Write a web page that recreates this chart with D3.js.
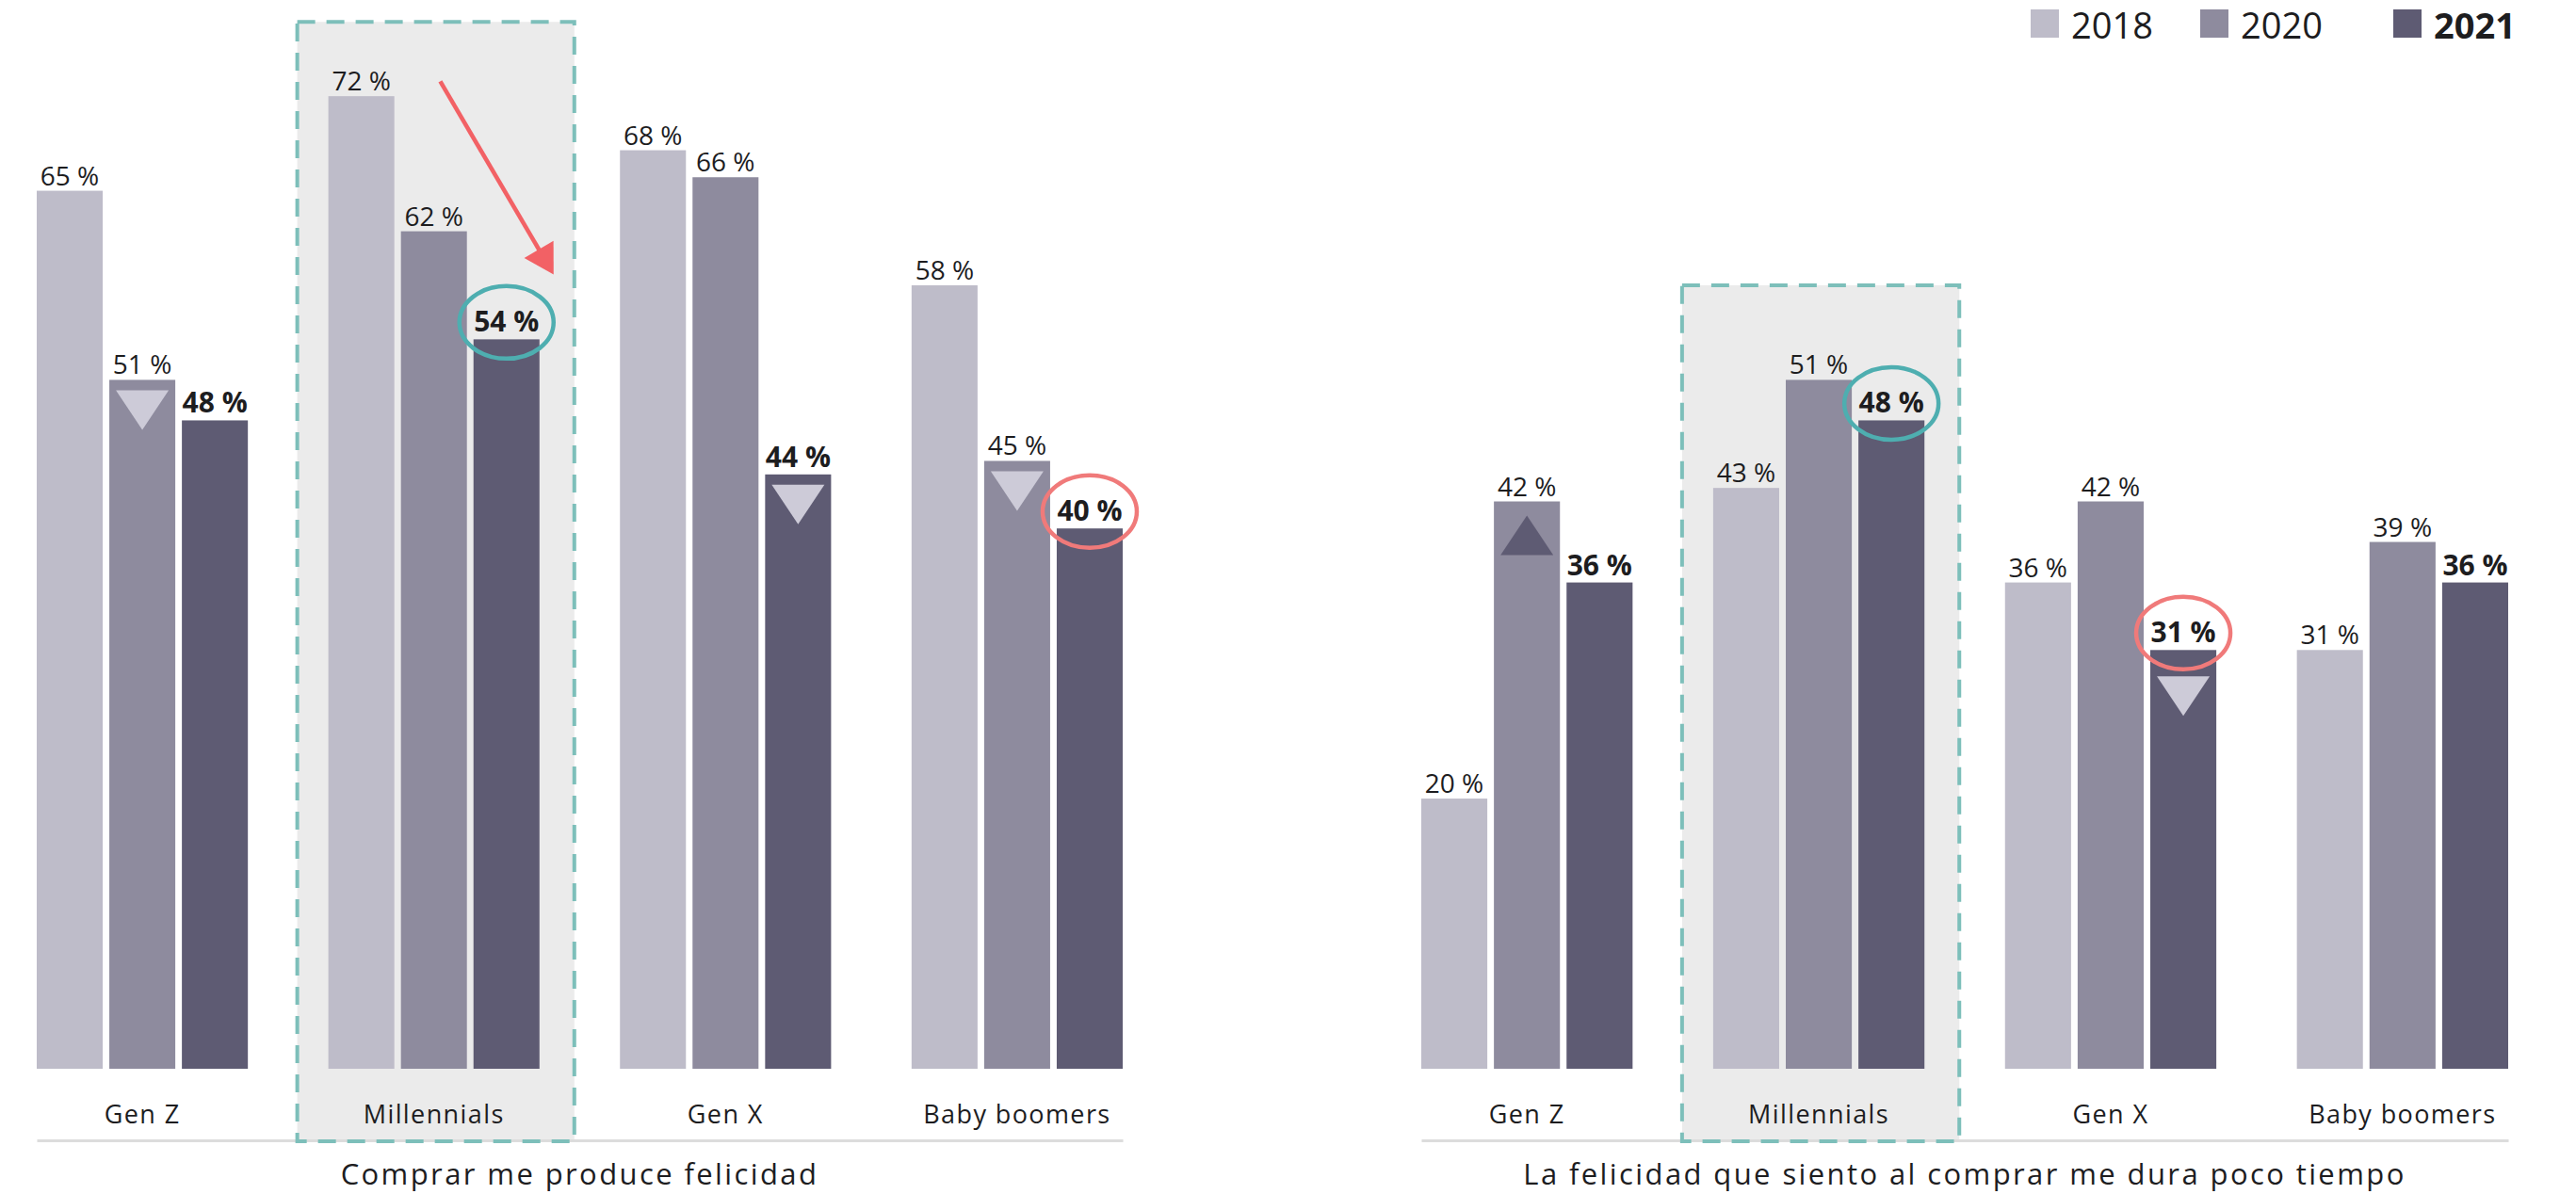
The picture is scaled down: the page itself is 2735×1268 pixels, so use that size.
<!DOCTYPE html>
<html>
<head>
<meta charset="utf-8">
<script src="https://cdn.jsdelivr.net/npm/d3@7"></script>
<style>
  html, body { margin: 0; padding: 0; background: #ffffff; }
  svg { display: block; }
  text { font-family: 'Open Sans', sans-serif; fill: #1d1d1f; }
</style>
</head>
<body>
<svg id="chart" width="2735" height="1268"></svg>
<script>
// ---------------- data ----------------
const categories = ["Gen Z", "Millennials", "Gen X", "Baby boomers"];
const years = ["2018", "2020", "2021"];
const panelTitles = [
  "Comprar me produce felicidad",
  "La felicidad que siento al comprar me dura poco tiempo"
];
const produce2018 = [65, 72, 68, 58];
const produce2020 = [51, 62, 66, 45];
const produce2021 = [48, 54, 44, 40];
const dura2018 = [20, 43, 36, 31];
const dura2020 = [42, 51, 42, 39];
const dura2021 = [36, 48, 31, 36];
const highlightCategory = ["Millennials", "Millennials"];
const highlightTopValue = [77.5, 58];
const trendMarks = [
  { panel: 0, cat: "Gen Z", year: "2020", dir: "down" },
  { panel: 0, cat: "Gen X", year: "2021", dir: "down" },
  { panel: 0, cat: "Baby boomers", year: "2020", dir: "down" },
  { panel: 1, cat: "Gen Z", year: "2020", dir: "up" },
  { panel: 1, cat: "Gen X", year: "2021", dir: "down" }
];
const circled = [
  { panel: 0, cat: "Millennials", year: "2021", tone: "teal" },
  { panel: 0, cat: "Baby boomers", year: "2021", tone: "coral" },
  { panel: 1, cat: "Millennials", year: "2021", tone: "teal" },
  { panel: 1, cat: "Gen X", year: "2021", tone: "coral" }
];
// arrow in panel 0: [category, fraction of group band, value]
const arrowFrom = ["Millennials", 0.53, 73.1];
const arrowTo = ["Millennials", 1.067, 58.8];

// ---------------- layout ----------------
const panelSeries = [
  [produce2018, produce2020, produce2021],
  [dura2018, dura2020, dura2021]
];
const panelRanges = [[39, 1192], [1509, 2663]];
const baseY = 1135, axisY = 1211;
const colors = d3.scaleOrdinal().domain(years).range(["#bebcc9", "#8e8b9e", "#5e5b73"]);
const toneColor = { teal: "#4eaeb0", coral: "#f07a7a" };
const y = d3.scaleLinear().domain([0, 100]).range([baseY, baseY - 1434.5]);

const svg = d3.select("#chart");

panelSeries.forEach((series, pi) => {
  const x0 = d3.scaleBand().domain(categories).range(panelRanges[pi]).paddingInner(0.276).paddingOuter(0);
  const x1 = d3.scaleBand().domain(years).range([0, x0.bandwidth()]).paddingInner(0.091).paddingOuter(0);
  const g = svg.append("g");

  // highlight box (fill)
  const hx = x0(highlightCategory[pi]) - 33;
  const hw = x0.bandwidth() + 70;
  const hy = y(highlightTopValue[pi]);
  g.append("rect").attr("x", hx).attr("y", hy).attr("width", hw).attr("height", axisY + 1 - hy)
    .attr("fill", "#ebebeb");

  // axis (category labels above baseline)
  const axis = g.append("g").attr("transform", `translate(0,${axisY})`)
    .call(d3.axisTop(x0).tickSize(0).tickSizeOuter(0).tickPadding(18));
  axis.select(".domain").attr("stroke", "#dcdcdc").attr("stroke-width", 3);
  axis.selectAll("text").attr("font-size", 27).attr("letter-spacing", 1.4)
    .attr("font-family", "'Open Sans', sans-serif").attr("fill", "#1d1d1f");

  // highlight box (dashed outline)
  g.append("rect").attr("x", hx).attr("y", hy).attr("width", hw).attr("height", axisY + 1 - hy)
    .attr("fill", "none").attr("stroke", "#7dbfba").attr("stroke-width", 4)
    .attr("stroke-dasharray", "19 12");

  // bars
  const rows = [];
  categories.forEach((c, ci) => years.forEach((yr, yi) => rows.push({ c, yr, v: series[yi][ci] })));
  g.selectAll("rect.bar").data(rows).enter().append("rect").attr("class", "bar")
    .attr("x", d => x0(d.c) + x1(d.yr))
    .attr("y", d => y(d.v))
    .attr("width", x1.bandwidth())
    .attr("height", d => y(0) - y(d.v))
    .attr("fill", d => colors(d.yr));

  // value labels
  g.selectAll("text.val").data(rows).enter().append("text").attr("class", "val")
    .attr("x", d => x0(d.c) + x1(d.yr) + x1.bandwidth() / 2)
    .attr("y", d => y(d.v) - (d.yr === "2021" ? 8 : 6))
    .attr("text-anchor", "middle")
    .attr("font-size", d => d.yr === "2021" ? 30 : 28)
    .attr("font-weight", d => d.yr === "2021" ? 700 : 400)
    .text(d => `${d.v} %`);

  // trend triangles
  const valOf = (c, yr) => series[years.indexOf(yr)][categories.indexOf(c)];
  const isCircled = (c, yr) => circled.some(k => k.panel === pi && k.cat === c && k.year === yr);
  trendMarks.filter(m => m.panel === pi).forEach(m => {
    const cx = x0(m.cat) + x1(m.year) + x1.bandwidth() / 2;
    const top = y(valOf(m.cat, m.year));
    const w = 56, h = 42;
    let pts;
    if (m.dir === "down") {
      const t = top + (isCircled(m.cat, m.year) ? 28 : 11);
      pts = [[cx - w / 2, t], [cx + w / 2, t], [cx, t + h]];
    } else {
      const t = top + 15;
      pts = [[cx, t], [cx + w / 2, t + h], [cx - w / 2, t + h]];
    }
    g.append("polygon").attr("points", pts.map(p => p.join(",")).join(" "))
      .attr("fill", m.dir === "down" ? "#cdcbd8" : "#5e5b73");
  });

  // circled labels
  circled.filter(k => k.panel === pi).forEach(k => {
    const cx = x0(k.cat) + x1(k.year) + x1.bandwidth() / 2;
    const cy = y(valOf(k.cat, k.year)) - 18;
    g.append("ellipse").attr("cx", cx).attr("cy", cy).attr("rx", 50).attr("ry", 38.5)
      .attr("fill", "none").attr("stroke", toneColor[k.tone]).attr("stroke-width", 4.5);
  });

  // arrow (panel 0)
  if (pi === 0) {
    const sx = x0(arrowFrom[0]) + arrowFrom[1] * x0.bandwidth(), sy = y(arrowFrom[2]);
    const tx = x0(arrowTo[0]) + arrowTo[1] * x0.bandwidth(), ty = y(arrowTo[2]);
    const len = Math.hypot(tx - sx, ty - sy), ux = (tx - sx) / len, uy = (ty - sy) / len;
    const hl = 31, hwid = 18;
    const bx = tx - ux * hl, by = ty - uy * hl;
    g.append("line").attr("x1", sx).attr("y1", sy).attr("x2", bx + ux * 2).attr("y2", by + uy * 2)
      .attr("stroke", "#f26165").attr("stroke-width", 4.5);
    g.append("polygon").attr("points", [[tx, ty], [bx - uy * hwid, by + ux * hwid], [bx + uy * hwid, by - ux * hwid]]
      .map(p => p.join(",")).join(" ")).attr("fill", "#f26165");
  }

  // panel title
  g.append("text").attr("x", (panelRanges[pi][0] + panelRanges[pi][1]) / 2).attr("y", 1258)
    .attr("text-anchor", "middle").attr("font-size", 31).attr("letter-spacing", 2.4)
    .text(panelTitles[pi]);
});

// ---------------- legend ----------------
const legendX = [2156, 2336, 2541];
const lg = svg.append("g");
years.forEach((yr, i) => {
  lg.append("rect").attr("x", legendX[i]).attr("y", 10).attr("width", 30).attr("height", 30).attr("fill", colors(yr));
  lg.append("text").attr("x", legendX[i] + 43).attr("y", 41).attr("font-size", 38)
    .attr("font-weight", yr === "2021" ? 700 : 400).text(yr);
});
</script>
</body>
</html>
